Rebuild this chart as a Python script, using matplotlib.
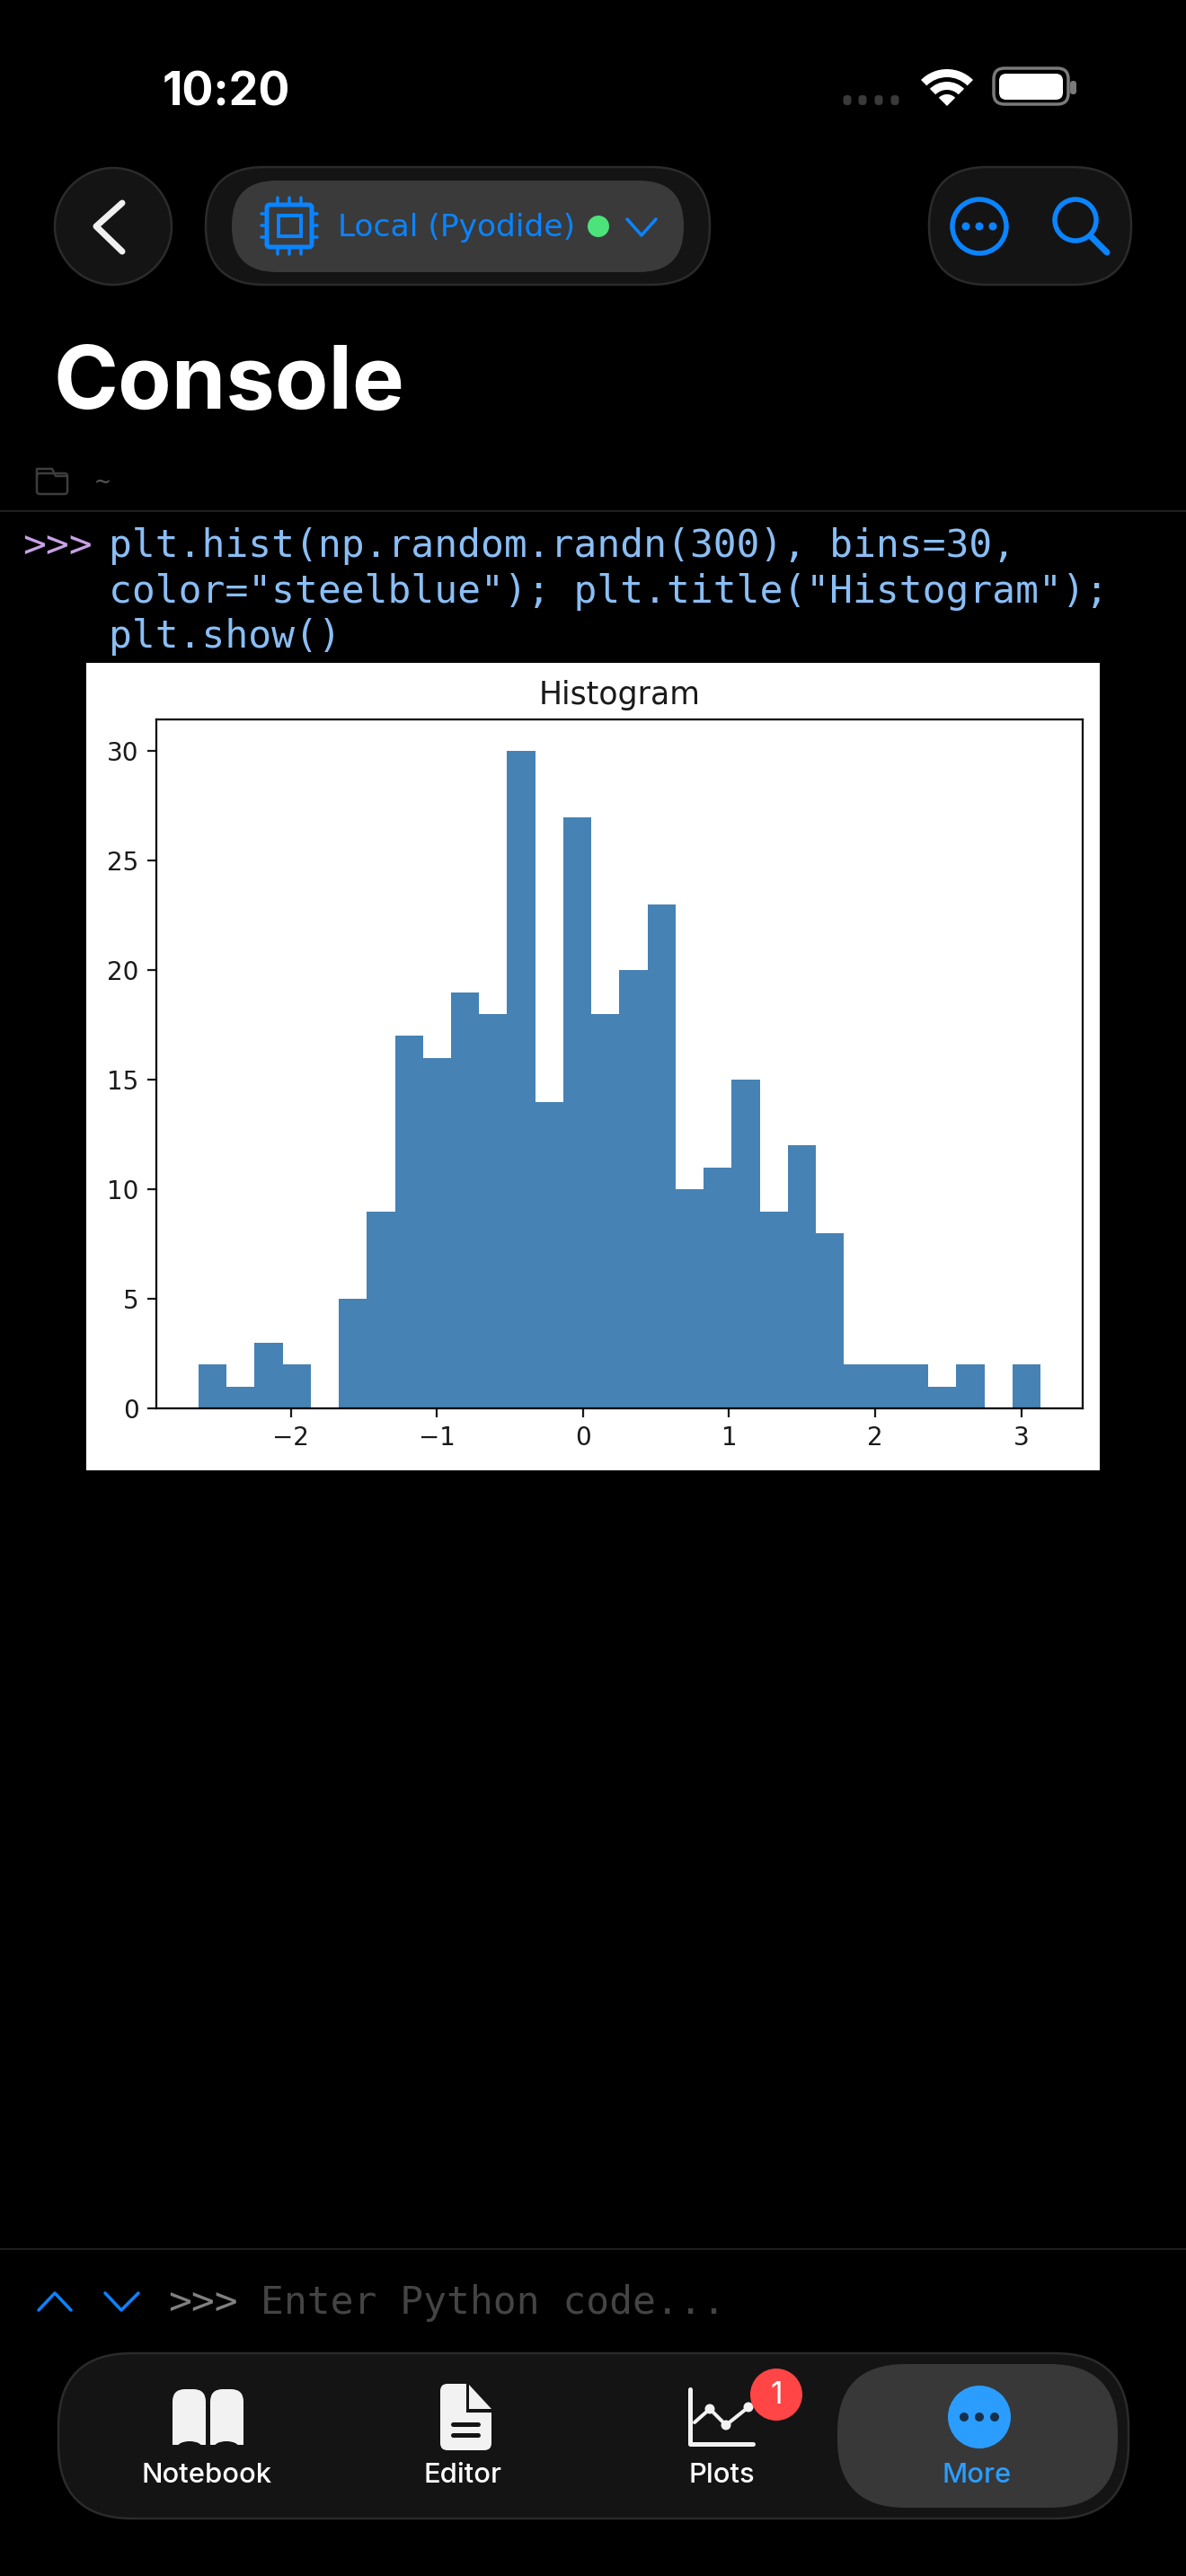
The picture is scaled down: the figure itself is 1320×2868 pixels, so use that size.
import matplotlib
matplotlib.use("Agg")
import matplotlib.pyplot as plt
from matplotlib.patches import Circle, FancyBboxPatch, Polygon, Rectangle, Wedge, Ellipse


# Datos del histograma
bin_edges = [-2.632, -2.440, -2.248, -2.056, -1.864, -1.672, -1.479, -1.287,
             -1.095, -0.903, -0.711, -0.519, -0.327, -0.135, 0.057, 0.249,
             0.442, 0.634, 0.826, 1.018, 1.210, 1.402, 1.594, 1.786,
             1.978, 2.170, 2.363, 2.555, 2.747, 2.939, 3.131]
bin_counts = [2, 1, 3, 2, 0, 5, 9, 17, 16, 19, 18, 30, 14, 27, 18,
              20, 23, 10, 11, 15, 9, 12, 8, 2, 2, 2, 1, 2, 0, 2]
x_ticks = [-2, -1, 0, 1, 2, 3]
y_ticks = [0, 5, 10, 15, 20, 25, 30]
chart_title = "Histogram"

# Textos de la pantalla
code_lines = ['plt.hist(np.random.randn(300), bins=30,',
              'color="steelblue"); plt.title("Histogram");',
              'plt.show()']
tab_labels = ["Notebook", "Editor", "Plots", "More"]

# Paleta
BG = "#000000"
BAR_BG = "#141414"
BAR_EDGE = "#2b2b2b"
PILL = "#3a3a3a"
BLUE = "#0a84ff"
TAB_BLUE = "#2a9dff"
CODE = "#8abef5"
PROMPT = "#c9a0e6"
ICON = "#f2f2f2"
MONO = "DejaVu Sans Mono"
SANS = "Inter"


def px(n):
    """Pixeles de la imagen a puntos (dpi 100)."""
    return n * 0.72


def pill(ax, x0, y0, x1, y1, r, fc, ec="none", lw=0, z=2):
    ax.add_patch(FancyBboxPatch((x0 + r, y0 + r), x1 - x0 - 2 * r, y1 - y0 - 2 * r,
                                boxstyle=f"round,pad={r},rounding_size={r}",
                                fc=fc, ec=ec, lw=px(lw), zorder=z))


def stroke(ax, xs, ys, color, lw, z=4):
    ax.plot(xs, ys, color=color, lw=px(lw), solid_capstyle="round",
            solid_joinstyle="round", zorder=z)


def label(ax, x, y, s, size, color, family=SANS, weight="normal", ha="left", va="center"):
    ax.text(x, y, s, fontsize=size, color=color, family=family, fontweight=weight,
            ha=ha, va=va, zorder=6)


def draw_status_bar(ui):
    label(ui, 181, 117, "10:20", 37.4, "#ffffff", weight="bold", va="baseline")
    for x in [943, 960, 978, 996]:
        pill(ui, x - 4.5, 106, x + 4.5, 117, 4, "#3a3a3a")
    ui.add_patch(Wedge((1054, 118), 41, 225, 315, width=9, fc="#ffffff", ec="none", zorder=3))
    ui.add_patch(Wedge((1054, 118), 27, 225, 315, width=9, fc="#ffffff", ec="none", zorder=3))
    ui.add_patch(Wedge((1054, 118), 13, 225, 315, fc="#ffffff", ec="none", zorder=3))
    pill(ui, 1106, 76, 1189, 116, 12, "none", ec="#7a7a7a", lw=3.5)
    pill(ui, 1112, 82, 1183, 111, 8, "#ffffff")
    pill(ui, 1191, 90, 1198, 105, 3, "#7a7a7a")


def draw_chip(ui):
    pill(ui, 297, 228, 347, 275, 3, "none", ec=BLUE, lw=5, z=4)
    ui.add_patch(Rectangle((310, 240), 25, 23, fc="none", ec=BLUE, lw=px(4), zorder=4))
    for d in [-13, 0, 13]:
        stroke(ui, [322 + d, 322 + d], [220, 226], BLUE, 3.5)
        stroke(ui, [322 + d, 322 + d], [277, 283], BLUE, 3.5)
        stroke(ui, [291, 295], [251 + d, 251 + d], BLUE, 3.5)
        stroke(ui, [349, 353], [251 + d, 251 + d], BLUE, 3.5)


def draw_top_bar(ui):
    # Boton atras
    ui.add_patch(Circle((126, 252), 65, fc=BAR_BG, ec=BAR_EDGE, lw=px(2.5), zorder=2))
    stroke(ui, [136, 107, 136], [226, 252, 280], "#f0f0f0", 7)

    # Selector de kernel
    pill(ui, 229, 186, 790, 317, 65, BAR_BG, ec=BAR_EDGE, lw=2.5)
    pill(ui, 258, 201, 761, 303, 50, PILL, z=3)
    draw_chip(ui)
    label(ui, 376, 253, "Local (Pyodide)", 24.8, BLUE, family="DejaVu Sans")
    ui.add_patch(Circle((666, 252), 12, fc="#4be37a", ec="none", zorder=4))
    stroke(ui, [698, 714, 730], [244, 262, 244], BLUE, 3.5)

    # Acciones
    pill(ui, 1034, 186, 1259, 317, 65, BAR_BG, ec=BAR_EDGE, lw=2.5)
    ui.add_patch(Circle((1090, 252), 30, fc="none", ec=BLUE, lw=px(5.5), zorder=3))
    for x in [1075, 1090, 1105]:
        ui.add_patch(Circle((x, 252), 4.5, fc=BLUE, ec="none", zorder=3))
    ui.add_patch(Circle((1197, 245), 23, fc="none", ec=BLUE, lw=px(5.5), zorder=3))
    stroke(ui, [1214, 1232], [263, 281], BLUE, 7)


def draw_console_header(ui):
    label(ui, 60, 455, "Console", 70, "#ffffff", weight="bold", va="baseline")
    pill(ui, 41, 527, 75, 550, 3, "none", ec="#3d3d3d", lw=2.5)
    stroke(ui, [41, 41, 58, 62, 75], [530, 522, 522, 530, 530], "#3d3d3d", 2.5)
    label(ui, 106, 537, "~", 20, "#555555", family=MONO)
    ui.plot([0, 1320], [568.5, 568.5], color="#2a2a2a", lw=px(1.5), zorder=2)


def draw_code(ui):
    label(ui, 25, 608, ">>>", 31, PROMPT, family=MONO)
    for y, line in zip([608, 659, 709], code_lines):
        label(ui, 121, y, line, 31, CODE, family=MONO)


def draw_chart(fig, ui):
    ui.add_patch(Rectangle((96, 738), 1128, 899, fc="#ffffff", ec="none", zorder=2))

    ax = fig.add_axes([174 / 1320, 1 - 1568 / 2868, 1031 / 1320, 767 / 2868], zorder=3)
    ax.hist(bin_edges[:-1], bins=bin_edges, weights=bin_counts, color="steelblue")
    ax.set_xlim(-2.92, 3.42)
    ax.set_ylim(0, 31.45)
    ax.set_xticks(x_ticks)
    ax.set_yticks(y_ticks)
    ax.tick_params(labelsize=20, length=7, width=1.6, pad=7, colors="#1a1a1a")
    for spine in ax.spines.values():
        spine.set_linewidth(1.6)
    ax.set_title(chart_title, fontsize=25, color="#1a1a1a", pad=12)


def draw_input(ui):
    ui.plot([0, 1320], [2504, 2504], color="#2a2a2a", lw=px(1.5), zorder=2)
    stroke(ui, [43, 61, 79], [2572, 2553, 2572], BLUE, 3.5)
    stroke(ui, [117, 135, 154], [2553, 2572, 2553], BLUE, 3.5)
    label(ui, 187, 2564, ">>>", 31, "#808080", family=MONO)
    label(ui, 290, 2564, "Enter Python code...", 31, "#444444", family=MONO)


def draw_tab_bar(ui):
    pill(ui, 65, 2620, 1256, 2804, 82, BAR_BG, ec=BAR_EDGE, lw=2.5)
    pill(ui, 932, 2632, 1244, 2792, 76, "#383838", z=3)

    # Notebook
    pill(ui, 192, 2660, 229, 2722, 14, ICON, z=3)
    pill(ui, 234, 2660, 271, 2722, 14, ICON, z=3)
    ui.add_patch(Rectangle((192, 2700), 37, 22, fc=ICON, ec="none", zorder=3))
    ui.add_patch(Rectangle((234, 2700), 37, 22, fc=ICON, ec="none", zorder=3))
    ui.add_patch(Ellipse((211, 2725), 28, 14, fc=BAR_BG, ec="none", zorder=4))
    ui.add_patch(Ellipse((252, 2725), 28, 14, fc=BAR_BG, ec="none", zorder=4))

    # Editor
    pill(ui, 490, 2654, 547, 2728, 8, ICON, z=3)
    ui.add_patch(Rectangle((519, 2650), 30, 36, fc=BAR_BG, ec="none", zorder=3))
    ui.add_patch(Polygon([(522, 2655), (547, 2682), (522, 2682)], fc=ICON, ec="none", zorder=3))
    stroke(ui, [504, 532], [2699, 2699], BAR_BG, 5)
    stroke(ui, [504, 532], [2711, 2711], BAR_BG, 5)

    # Plots
    stroke(ui, [768, 768, 838], [2660, 2721, 2721], ICON, 5, z=3)
    stroke(ui, [773, 790, 808, 833], [2697, 2682, 2700, 2680], ICON, 4, z=3)
    for x, y in [(790, 2682), (808, 2700), (833, 2680)]:
        ui.add_patch(Circle((x, y), 5.5, fc=ICON, ec="none", zorder=3))
    ui.add_patch(Circle((864, 2666), 29, fc="#ff4545", ec="none", zorder=4))
    label(ui, 864, 2667, "1", 24, "#ffffff", ha="center")

    # More
    ui.add_patch(Circle((1090, 2691), 35, fc=TAB_BLUE, ec="none", zorder=4))
    for x in [1073, 1090, 1107]:
        ui.add_patch(Circle((x, 2691), 5, fc="#17304a", ec="none", zorder=5))

    for x, s in zip([230, 515, 803, 1087], tab_labels):
        c = TAB_BLUE if s == "More" else "#ffffff"
        label(ui, x, 2756, s, 22.3, c, ha="center", weight="medium")


fig = plt.figure(figsize=(13.2, 28.68), dpi=100, facecolor=BG)
ui = fig.add_axes([0, 0, 1, 1])
ui.set_xlim(0, 1320)
ui.set_ylim(2868, 0)
ui.axis("off")

draw_status_bar(ui)
draw_top_bar(ui)
draw_console_header(ui)
draw_code(ui)
draw_chart(fig, ui)
draw_input(ui)
draw_tab_bar(ui)

fig.savefig("out.png", dpi=100, facecolor=BG)
